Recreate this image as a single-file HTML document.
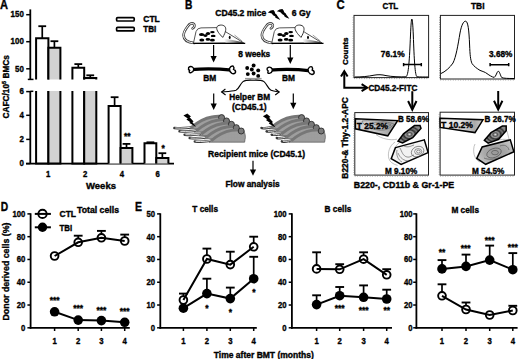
<!DOCTYPE html>
<html><head><meta charset="utf-8"><style>
html,body{margin:0;padding:0;background:#fff;width:520px;height:359px;overflow:hidden}
svg{display:block}
text{font-family:"Liberation Sans",sans-serif;fill:#000;stroke:#000;stroke-width:0.35px}
</style></head><body>
<svg width="520" height="359" viewBox="0 0 520 359">
<defs>
<linearGradient id="noseg" x1="0" y1="0" x2="1" y2="0"><stop offset="0" stop-color="#fff"/><stop offset="0.5" stop-color="#999"/><stop offset="1" stop-color="#111"/></linearGradient>
<pattern id="dots" width="1.5" height="1.5" patternUnits="userSpaceOnUse"><rect width="1.5" height="1.5" fill="#bdbdbd"/><circle cx="0.75" cy="0.75" r="0.5" fill="#666"/></pattern>
<linearGradient id="tgrad" x1="0" y1="0" x2="1" y2="0"><stop offset="0" stop-color="#d8d8d8"/><stop offset="0.5" stop-color="#c4c4c4"/><stop offset="0.85" stop-color="#a0a0a0"/><stop offset="1" stop-color="#c8c8c8"/></linearGradient>
<linearGradient id="tgrad2" x1="0" y1="0" x2="1" y2="0"><stop offset="0" stop-color="#f4f4f4"/><stop offset="0.5" stop-color="#ddd"/><stop offset="0.8" stop-color="#aaa"/><stop offset="1" stop-color="#ccc"/></linearGradient>
<radialGradient id="bgrad"><stop offset="0" stop-color="#eee"/><stop offset="0.2" stop-color="#555"/><stop offset="0.35" stop-color="#999"/><stop offset="0.5" stop-color="#333"/><stop offset="0.7" stop-color="#777"/><stop offset="0.85" stop-color="#333"/><stop offset="1" stop-color="#888"/></radialGradient>
<radialGradient id="mgrad"><stop offset="0" stop-color="#999"/><stop offset="0.6" stop-color="#a8a8a8"/><stop offset="1" stop-color="#c0c0c0"/></radialGradient>
</defs>
<text x="0" y="8.5" font-size="12" text-anchor="start" font-weight="bold" textLength="8" lengthAdjust="spacingAndGlyphs" >A</text>
<line x1="30.3" y1="9.4" x2="30.3" y2="79.4" stroke="#000" stroke-width="1.8" />
<line x1="26.2" y1="14.7" x2="30.3" y2="14.7" stroke="#000" stroke-width="1.5" />
<text x="23.8" y="17.4" font-size="8.9" text-anchor="end" font-weight="bold" textLength="13.2" lengthAdjust="spacingAndGlyphs" >150</text>
<line x1="26.2" y1="41.7" x2="30.3" y2="41.7" stroke="#000" stroke-width="1.5" />
<text x="23.8" y="44.400000000000006" font-size="8.9" text-anchor="end" font-weight="bold" textLength="13.2" lengthAdjust="spacingAndGlyphs" >100</text>
<line x1="26.2" y1="68.8" x2="30.3" y2="68.8" stroke="#000" stroke-width="1.5" />
<text x="23.8" y="71.5" font-size="8.9" text-anchor="end" font-weight="bold" textLength="8.8" lengthAdjust="spacingAndGlyphs" >50</text>
<line x1="27.8" y1="79.4" x2="33.5" y2="79.4" stroke="#000" stroke-width="1.5" />
<line x1="30.3" y1="91.3" x2="33.3" y2="91.3" stroke="#000" stroke-width="1.5" />
<line x1="30.3" y1="91" x2="30.3" y2="163.6" stroke="#000" stroke-width="1.8" />
<line x1="26.2" y1="91.6" x2="30.3" y2="91.6" stroke="#000" stroke-width="1.5" />
<text x="23.8" y="94.3" font-size="8.9" text-anchor="end" font-weight="bold" textLength="4.4" lengthAdjust="spacingAndGlyphs" >6</text>
<line x1="26.2" y1="115.3" x2="30.3" y2="115.3" stroke="#000" stroke-width="1.5" />
<text x="23.8" y="118.0" font-size="8.9" text-anchor="end" font-weight="bold" textLength="4.4" lengthAdjust="spacingAndGlyphs" >4</text>
<line x1="26.2" y1="139.4" x2="30.3" y2="139.4" stroke="#000" stroke-width="1.5" />
<text x="23.8" y="142.1" font-size="8.9" text-anchor="end" font-weight="bold" textLength="4.4" lengthAdjust="spacingAndGlyphs" >2</text>
<line x1="26.2" y1="163.6" x2="30.3" y2="163.6" stroke="#000" stroke-width="1.5" />
<text x="23.8" y="166.29999999999998" font-size="8.9" text-anchor="end" font-weight="bold" textLength="4.4" lengthAdjust="spacingAndGlyphs" >0</text>
<line x1="26" y1="163.6" x2="174" y2="163.6" stroke="#000" stroke-width="1.8" />
<text x="48.2" y="176.8" font-size="8.6" text-anchor="middle" font-weight="bold" textLength="4.3" lengthAdjust="spacingAndGlyphs" >1</text>
<text x="85.2" y="176.8" font-size="8.6" text-anchor="middle" font-weight="bold" textLength="4.3" lengthAdjust="spacingAndGlyphs" >2</text>
<text x="121.8" y="176.8" font-size="8.6" text-anchor="middle" font-weight="bold" textLength="4.3" lengthAdjust="spacingAndGlyphs" >4</text>
<text x="157.6" y="176.8" font-size="8.6" text-anchor="middle" font-weight="bold" textLength="4.3" lengthAdjust="spacingAndGlyphs" >6</text>
<text x="101" y="188.6" font-size="9.3" text-anchor="middle" font-weight="bold" textLength="30" lengthAdjust="spacingAndGlyphs" >Weeks</text>
<text transform="translate(8.6,86.8) rotate(-90)" font-size="8.3" font-weight="bold" text-anchor="middle">CAFC/10<tspan font-size="5.5" dy="-3">5</tspan><tspan dy="3"> BMCs</tspan></text>
<path d="M36.1,79.5 V38.3 H48.4 V79.5" fill="#fff" stroke="#000" stroke-width="2.0"/>
<path d="M36.1,91 V163.6 H48.4 V91" fill="#fff" stroke="#000" stroke-width="2.0"/>
<line x1="42.25" y1="38.3" x2="42.25" y2="26.2" stroke="#000" stroke-width="1.7" />
<line x1="38.35" y1="26.2" x2="46.15" y2="26.2" stroke="#000" stroke-width="1.8" />
<path d="M48.4,79.5 V47.8 H60.4 V79.5" fill="#d2d2d2" stroke="#000" stroke-width="2.0"/>
<path d="M48.4,91 V163.6 H60.4 V91" fill="#d2d2d2" stroke="#000" stroke-width="2.0"/>
<line x1="54.4" y1="47.8" x2="54.4" y2="41.2" stroke="#000" stroke-width="1.7" />
<line x1="50.5" y1="41.2" x2="58.3" y2="41.2" stroke="#000" stroke-width="1.8" />
<path d="M72.4,79.5 V67.8 H84.2 V79.5" fill="#fff" stroke="#000" stroke-width="2.0"/>
<path d="M72.4,91 V163.6 H84.2 V91" fill="#fff" stroke="#000" stroke-width="2.0"/>
<line x1="78.30000000000001" y1="67.8" x2="78.30000000000001" y2="64.1" stroke="#000" stroke-width="1.7" />
<line x1="74.4" y1="64.1" x2="82.20000000000002" y2="64.1" stroke="#000" stroke-width="1.8" />
<path d="M84.2,79.5 V77.9 H96.3 V79.5" fill="#d2d2d2" stroke="#000" stroke-width="2.0"/>
<path d="M84.2,91 V163.6 H96.3 V91" fill="#d2d2d2" stroke="#000" stroke-width="2.0"/>
<line x1="90.25" y1="77.9" x2="90.25" y2="75.3" stroke="#000" stroke-width="1.7" />
<line x1="86.35" y1="75.3" x2="94.15" y2="75.3" stroke="#000" stroke-width="1.8" />
<path d="M108.6,163.6 V105.9 H120.6 V163.6" fill="#fff" stroke="#000" stroke-width="2.0"/>
<line x1="114.6" y1="105.9" x2="114.6" y2="97.2" stroke="#000" stroke-width="1.7" />
<line x1="110.69999999999999" y1="97.2" x2="118.5" y2="97.2" stroke="#000" stroke-width="1.8" />
<path d="M120.6,163.6 V147.9 H132.4 V163.6" fill="#d2d2d2" stroke="#000" stroke-width="2.0"/>
<line x1="126.5" y1="147.9" x2="126.5" y2="143.9" stroke="#000" stroke-width="1.7" />
<line x1="122.6" y1="143.9" x2="130.4" y2="143.9" stroke="#000" stroke-width="1.8" />
<path d="M144.5,163.6 V143.3 H156.3 V163.6" fill="#fff" stroke="#000" stroke-width="2.0"/>
<line x1="150.4" y1="143.3" x2="150.4" y2="142.3" stroke="#000" stroke-width="1.7" />
<line x1="146.5" y1="142.3" x2="154.3" y2="142.3" stroke="#000" stroke-width="1.8" />
<path d="M156.3,163.6 V158.0 H168.4 V163.6" fill="#d2d2d2" stroke="#000" stroke-width="2.0"/>
<line x1="162.35000000000002" y1="158.0" x2="162.35000000000002" y2="153.2" stroke="#000" stroke-width="1.7" />
<line x1="158.45000000000002" y1="153.2" x2="166.25000000000003" y2="153.2" stroke="#000" stroke-width="1.8" />
<text x="127.2" y="139.2" font-size="8.5" text-anchor="middle" font-weight="bold" >**</text>
<text x="163.2" y="150.5" font-size="8.5" text-anchor="middle" font-weight="bold" >*</text>
<rect x="116.6" y="17.6" width="17.6" height="3.4" rx="1.0" fill="#fff" stroke="#000" stroke-width="1.7"/>
<rect x="116.6" y="27.3" width="17.6" height="3.6" rx="1.0" fill="#f4f4f4" stroke="#000" stroke-width="1.7"/>
<text x="143.3" y="22.2" font-size="8.3" text-anchor="start" font-weight="bold" textLength="16.5" lengthAdjust="spacingAndGlyphs" >CTL</text>
<text x="143.3" y="32.3" font-size="8.3" text-anchor="start" font-weight="bold" textLength="13" lengthAdjust="spacingAndGlyphs" >TBI</text>
<text x="185.0" y="8.7" font-size="12" text-anchor="start" font-weight="bold" textLength="7.4" lengthAdjust="spacingAndGlyphs" >B</text>
<text x="215.3" y="15.8" font-size="8.5" text-anchor="start" font-weight="bold" textLength="51" lengthAdjust="spacingAndGlyphs" >CD45.2 mice</text>
<text x="291.8" y="15.5" font-size="8.5" text-anchor="start" font-weight="bold" textLength="18.8" lengthAdjust="spacingAndGlyphs" >6 Gy</text>
<path d="M267.8,12.4 L270.6,10.6 L273.4,10.1 L274.6,11.6 L275.2,13.4 L276.8,14.8 L277.4,16.0 L278.6,17.4 L280.4,19.9 L277.0,18.6 L275.0,17.2 L275.4,16.6 L273.0,15.2 L271.8,13.6 L270.0,13.0 Z" fill="#000"/>
<path d="M267.8,12.4 L270.6,10.6 L273.4,10.1 L274.6,11.6 L275.2,13.4 L276.8,14.8 L277.4,16.0 L278.6,17.4 L280.4,19.9 L277.0,18.6 L275.0,17.2 L275.4,16.6 L273.0,15.2 L271.8,13.6 L270.0,13.0 Z" fill="#000" transform="translate(9.0,-1.2)"/>
<g transform="translate(0,0)"><path d="M194.5,43.0 C188,42.6 183.8,39.8 183.6,35.6 C183.4,32 186,28.6 188,26 C189.6,23.6 192.4,22.6 194.0,24.2 C195.2,25.6 194.2,27.6 192.6,28.4" fill="none" stroke="#444" stroke-width="2.6" stroke-linecap="round"/><path d="M194.5,43.0 C188,42.6 183.8,39.8 183.6,35.6 C183.4,32 186,28.6 188,26 C189.6,23.6 192.4,22.6 194.0,24.2 C195.2,25.6 194.2,27.6 192.6,28.4" fill="none" stroke="#fff" stroke-width="1.0" stroke-linecap="round"/><path d="M193.4,43.4 L196.0,31.6 Q197.2,28.0 201.0,27.9 L218.0,27.6 L226.0,32.0 L243.6,42.8 Z" fill="#fff" stroke="#555" stroke-width="1.0" stroke-linejoin="round"/><path d="M224,39.0 C232,39.6 238,41.0 243.8,42.8 L226,43.4 Z" fill="url(#noseg)"/><path d="M234.5,35.0 L242.0,41.0" stroke="#777" stroke-width="0.7"/><line x1="193.2" y1="43.4" x2="245.2" y2="43.4" stroke="#000" stroke-width="1.1"/><path d="M222.7,37.4 C219.4,34.0 216.2,30.4 216.8,27.4 C217.4,24.8 222.6,24.2 224.8,26.4 C226.6,28.4 225.8,32.2 222.7,37.4 Z" fill="#fff" stroke="#333" stroke-width="1.0"/><ellipse cx="229.7" cy="37.4" rx="0.95" ry="1.6" fill="#000"/><ellipse cx="201.6" cy="34.5" rx="2.6" ry="1.5" fill="#000"/><ellipse cx="205.4" cy="35.6" rx="2.2" ry="1.4" fill="#000"/><ellipse cx="208.0" cy="33.4" rx="2.2" ry="1.5" fill="#000"/><ellipse cx="212.4" cy="32.1" rx="2.3" ry="1.2" fill="#000"/><ellipse cx="213.2" cy="35.9" rx="2.4" ry="1.2" fill="#000"/><ellipse cx="201.8" cy="40.0" rx="2.5" ry="1.5" fill="#000"/><ellipse cx="207.9" cy="39.4" rx="2.3" ry="1.4" fill="#000"/><ellipse cx="212.4" cy="40.2" rx="2.5" ry="1.4" fill="#000"/></g>
<g transform="translate(78.3,0)"><path d="M194.5,43.0 C188,42.6 183.8,39.8 183.6,35.6 C183.4,32 186,28.6 188,26 C189.6,23.6 192.4,22.6 194.0,24.2 C195.2,25.6 194.2,27.6 192.6,28.4" fill="none" stroke="#444" stroke-width="2.6" stroke-linecap="round"/><path d="M194.5,43.0 C188,42.6 183.8,39.8 183.6,35.6 C183.4,32 186,28.6 188,26 C189.6,23.6 192.4,22.6 194.0,24.2 C195.2,25.6 194.2,27.6 192.6,28.4" fill="none" stroke="#fff" stroke-width="1.0" stroke-linecap="round"/><path d="M193.4,43.4 L196.0,31.6 Q197.2,28.0 201.0,27.9 L218.0,27.6 L226.0,32.0 L243.6,42.8 Z" fill="#fff" stroke="#555" stroke-width="1.0" stroke-linejoin="round"/><path d="M224,39.0 C232,39.6 238,41.0 243.8,42.8 L226,43.4 Z" fill="url(#noseg)"/><path d="M234.5,35.0 L242.0,41.0" stroke="#777" stroke-width="0.7"/><line x1="193.2" y1="43.4" x2="245.2" y2="43.4" stroke="#000" stroke-width="1.1"/><path d="M222.7,37.4 C219.4,34.0 216.2,30.4 216.8,27.4 C217.4,24.8 222.6,24.2 224.8,26.4 C226.6,28.4 225.8,32.2 222.7,37.4 Z" fill="#fff" stroke="#333" stroke-width="1.0"/><ellipse cx="229.7" cy="37.4" rx="0.95" ry="1.6" fill="#000"/><ellipse cx="201.6" cy="34.5" rx="2.6" ry="1.5" fill="#000"/><ellipse cx="205.4" cy="35.6" rx="2.2" ry="1.4" fill="#000"/><ellipse cx="208.0" cy="33.4" rx="2.2" ry="1.5" fill="#000"/><ellipse cx="212.4" cy="32.1" rx="2.3" ry="1.2" fill="#000"/><ellipse cx="213.2" cy="35.9" rx="2.4" ry="1.2" fill="#000"/><ellipse cx="201.8" cy="40.0" rx="2.5" ry="1.5" fill="#000"/><ellipse cx="207.9" cy="39.4" rx="2.3" ry="1.4" fill="#000"/><ellipse cx="212.4" cy="40.2" rx="2.5" ry="1.4" fill="#000"/></g>
<line x1="213.6" y1="45.0" x2="213.6" y2="56.6" stroke="#000" stroke-width="1.2" />
<path d="M210.5,56.1 L216.7,56.1 L213.6,62.5 Z" fill="#000"/>
<line x1="290.3" y1="45.0" x2="290.3" y2="58.1" stroke="#000" stroke-width="1.2" />
<path d="M287.2,57.6 L293.40000000000003,57.6 L290.3,64.0 Z" fill="#000"/>
<text x="238.2" y="57.4" font-size="8.4" text-anchor="start" font-weight="bold" textLength="32" lengthAdjust="spacingAndGlyphs" >8 weeks</text>
<g transform="translate(0,0)"><path d="M191,69.6 Q211,67.8 232,70.2" fill="none" stroke="#000" stroke-width="3.2"/><path d="M188.6,67.6 Q190.5,65.8 192.4,67.0 Q194.2,68.2 193.6,70.2 Q193.2,72.4 190.8,72.8 Q188.4,73.0 189.6,70.4 Q188.0,69.4 188.6,67.6 Z" fill="#fff" stroke="#000" stroke-width="1.4"/><path d="M229.4,68.6 Q231.0,65.4 233.2,66.2 Q234.6,67.6 233.6,69.4 Q236.2,70.6 235.4,72.8 Q233.6,74.6 231.6,73.2 Q229.4,71.8 229.4,68.6 Z" fill="#fff" stroke="#000" stroke-width="1.4"/></g>
<g transform="translate(78.6,0.6)"><path d="M191,69.6 Q211,67.8 232,70.2" fill="none" stroke="#000" stroke-width="3.2"/><path d="M188.6,67.6 Q190.5,65.8 192.4,67.0 Q194.2,68.2 193.6,70.2 Q193.2,72.4 190.8,72.8 Q188.4,73.0 189.6,70.4 Q188.0,69.4 188.6,67.6 Z" fill="#fff" stroke="#000" stroke-width="1.4"/><path d="M229.4,68.6 Q231.0,65.4 233.2,66.2 Q234.6,67.6 233.6,69.4 Q236.2,70.6 235.4,72.8 Q233.6,74.6 231.6,73.2 Q229.4,71.8 229.4,68.6 Z" fill="#fff" stroke="#000" stroke-width="1.4"/></g>
<text x="203.3" y="80.8" font-size="8.4" text-anchor="start" font-weight="bold" textLength="13" lengthAdjust="spacingAndGlyphs" >BM</text>
<text x="282.0" y="81.0" font-size="8.4" text-anchor="start" font-weight="bold" textLength="13" lengthAdjust="spacingAndGlyphs" >BM</text>
<circle cx="253.6" cy="65.5" r="1.95" fill="#000"/>
<circle cx="247.2" cy="68.0" r="1.95" fill="#000"/>
<circle cx="251.8" cy="69.5" r="1.95" fill="#000"/>
<circle cx="258.2" cy="70.4" r="1.95" fill="#000"/>
<circle cx="247.8" cy="74.1" r="1.95" fill="#000"/>
<circle cx="253.6" cy="73.5" r="1.95" fill="#000"/>
<circle cx="258.2" cy="75.9" r="1.95" fill="#000"/>
<rect x="245" y="77.9" width="16.6" height="1.6" fill="#999"/>
<path d="M221.6,92.0 C226,91.6 232,91.4 236,90.2 C239,89 240,84 243,81.6 C246,79.8 250,80.2 253,80.2 C257,80.2 261,79.8 264,81.6 C267,84 268,89 271,90.2 C274,91.4 277,91.6 279.2,92.0" fill="none" stroke="#000" stroke-width="1.1"/>
<path d="M225.4,89.0 L221.6,92.0 L225.6,95.0" fill="none" stroke="#000" stroke-width="1.1"/>
<path d="M275.4,89.0 L279.2,92.0 L275.2,95.0" fill="none" stroke="#000" stroke-width="1.1"/>
<text x="229.3" y="100.0" font-size="8.4" text-anchor="start" font-weight="bold" textLength="40.7" lengthAdjust="spacingAndGlyphs" >Helper BM</text>
<text x="232.0" y="109.6" font-size="8.4" text-anchor="start" font-weight="bold" textLength="34.5" lengthAdjust="spacingAndGlyphs" >(CD45.1)</text>
<line x1="213.7" y1="93.6" x2="213.7" y2="104.1" stroke="#000" stroke-width="1.2" />
<path d="M210.6,103.6 L216.79999999999998,103.6 L213.7,110.0 Z" fill="#000"/>
<line x1="293.3" y1="93.6" x2="293.3" y2="103.3" stroke="#000" stroke-width="1.2" />
<path d="M290.2,102.8 L296.40000000000003,102.8 L293.3,109.2 Z" fill="#000"/>
<g transform="translate(0,0)"><g transform="translate(0.00,0.00)"><path d="M174.4,128.0 C182,128.6 190,128.0 197,126.2" fill="none" stroke="#3a3a3a" stroke-width="2.5" stroke-linecap="round"/><path d="M175.6,128.0 C182,128.4 190,127.8 197,126.1" fill="none" stroke="#f4f4f4" stroke-width="0.9" stroke-linecap="round"/><path d="M189.5,128.8 C196,123 204,118.2 212,116.6 C217,115.6 221,115.4 224,117.0 C225.4,119.4 226.4,123.6 225.4,126.4 L225.0,128.8 Z" fill="url(#dots)" stroke="#444" stroke-width="0.6"/><path d="M191.5,127.4 C198,121.8 205,118.2 212,117.0 C216,116.3 219,116.1 221,116.5" fill="none" stroke="#777" stroke-width="2.9"/><circle cx="221.6" cy="117.6" r="3.0" fill="#7a7a7a" stroke="#2a2a2a" stroke-width="0.9"/></g><g transform="translate(4.90,3.35)"><path d="M174.6,128.0 C182,128.6 190,128.0 197,126.2" fill="none" stroke="#3a3a3a" stroke-width="2.5" stroke-linecap="round"/><path d="M175.79999999999998,128.0 C182,128.4 190,127.8 197,126.1" fill="none" stroke="#f4f4f4" stroke-width="0.9" stroke-linecap="round"/><path d="M189.5,128.8 C196,123 204,118.2 212,116.6 C217,115.6 221,115.4 224,117.0 C225.4,119.4 226.4,123.6 225.4,126.4 L225.0,128.8 Z" fill="url(#dots)" stroke="#444" stroke-width="0.6"/><path d="M191.5,127.4 C198,121.8 205,118.2 212,117.0 C216,116.3 219,116.1 221,116.5" fill="none" stroke="#777" stroke-width="2.9"/><circle cx="221.6" cy="117.6" r="3.0" fill="#7a7a7a" stroke="#2a2a2a" stroke-width="0.9"/></g><g transform="translate(9.80,6.70)"><path d="M174.8,128.0 C182,128.6 190,128.0 197,126.2" fill="none" stroke="#3a3a3a" stroke-width="2.5" stroke-linecap="round"/><path d="M176.0,128.0 C182,128.4 190,127.8 197,126.1" fill="none" stroke="#f4f4f4" stroke-width="0.9" stroke-linecap="round"/><path d="M189.5,128.8 C196,123 204,118.2 212,116.6 C217,115.6 221,115.4 224,117.0 C225.4,119.4 226.4,123.6 225.4,126.4 L225.0,128.8 Z" fill="url(#dots)" stroke="#444" stroke-width="0.6"/><path d="M191.5,127.4 C198,121.8 205,118.2 212,117.0 C216,116.3 219,116.1 221,116.5" fill="none" stroke="#777" stroke-width="2.9"/><circle cx="221.6" cy="117.6" r="3.0" fill="#7a7a7a" stroke="#2a2a2a" stroke-width="0.9"/></g><g transform="translate(14.70,10.05)"><path d="M175.0,128.0 C182,128.6 190,128.0 197,126.2" fill="none" stroke="#3a3a3a" stroke-width="2.5" stroke-linecap="round"/><path d="M176.2,128.0 C182,128.4 190,127.8 197,126.1" fill="none" stroke="#f4f4f4" stroke-width="0.9" stroke-linecap="round"/><path d="M189.5,128.8 C196,123 204,118.2 212,116.6 C217,115.6 221,115.4 224,117.0 C225.4,119.4 226.4,123.6 225.4,126.4 L225.0,128.8 Z" fill="url(#dots)" stroke="#444" stroke-width="0.6"/><path d="M191.5,127.4 C198,121.8 205,118.2 212,117.0 C216,116.3 219,116.1 221,116.5" fill="none" stroke="#777" stroke-width="2.9"/><circle cx="221.6" cy="117.6" r="3.0" fill="#7a7a7a" stroke="#2a2a2a" stroke-width="0.9"/></g><g transform="translate(19.60,13.40)"><path d="M175.20000000000002,128.0 C182,128.6 190,128.0 197,126.2" fill="none" stroke="#3a3a3a" stroke-width="2.5" stroke-linecap="round"/><path d="M176.4,128.0 C182,128.4 190,127.8 197,126.1" fill="none" stroke="#f4f4f4" stroke-width="0.9" stroke-linecap="round"/><path d="M189.5,128.8 C196,123 204,118.2 212,116.6 C217,115.6 221,115.4 224,117.0 C225.4,119.4 226.4,123.6 225.4,126.4 L225.0,128.8 Z" fill="url(#dots)" stroke="#444" stroke-width="0.6"/><path d="M191.5,127.4 C198,121.8 205,118.2 212,117.0 C216,116.3 219,116.1 221,116.5" fill="none" stroke="#777" stroke-width="2.9"/><circle cx="221.6" cy="117.6" r="3.0" fill="#7a7a7a" stroke="#2a2a2a" stroke-width="0.9"/></g></g>
<g transform="translate(80.0,0)"><g transform="translate(0.00,0.00)"><path d="M181.5,128.0 C182,128.6 190,128.0 197,126.2" fill="none" stroke="#3a3a3a" stroke-width="2.5" stroke-linecap="round"/><path d="M182.7,128.0 C182,128.4 190,127.8 197,126.1" fill="none" stroke="#f4f4f4" stroke-width="0.9" stroke-linecap="round"/><path d="M189.5,128.8 C196,123 204,118.2 212,116.6 C217,115.6 221,115.4 224,117.0 C225.4,119.4 226.4,123.6 225.4,126.4 L225.0,128.8 Z" fill="url(#dots)" stroke="#444" stroke-width="0.6"/><path d="M191.5,127.4 C198,121.8 205,118.2 212,117.0 C216,116.3 219,116.1 221,116.5" fill="none" stroke="#777" stroke-width="2.9"/><circle cx="221.6" cy="117.6" r="3.0" fill="#7a7a7a" stroke="#2a2a2a" stroke-width="0.9"/></g><g transform="translate(4.90,3.35)"><path d="M181.7,128.0 C182,128.6 190,128.0 197,126.2" fill="none" stroke="#3a3a3a" stroke-width="2.5" stroke-linecap="round"/><path d="M182.89999999999998,128.0 C182,128.4 190,127.8 197,126.1" fill="none" stroke="#f4f4f4" stroke-width="0.9" stroke-linecap="round"/><path d="M189.5,128.8 C196,123 204,118.2 212,116.6 C217,115.6 221,115.4 224,117.0 C225.4,119.4 226.4,123.6 225.4,126.4 L225.0,128.8 Z" fill="url(#dots)" stroke="#444" stroke-width="0.6"/><path d="M191.5,127.4 C198,121.8 205,118.2 212,117.0 C216,116.3 219,116.1 221,116.5" fill="none" stroke="#777" stroke-width="2.9"/><circle cx="221.6" cy="117.6" r="3.0" fill="#7a7a7a" stroke="#2a2a2a" stroke-width="0.9"/></g><g transform="translate(9.80,6.70)"><path d="M181.9,128.0 C182,128.6 190,128.0 197,126.2" fill="none" stroke="#3a3a3a" stroke-width="2.5" stroke-linecap="round"/><path d="M183.1,128.0 C182,128.4 190,127.8 197,126.1" fill="none" stroke="#f4f4f4" stroke-width="0.9" stroke-linecap="round"/><path d="M189.5,128.8 C196,123 204,118.2 212,116.6 C217,115.6 221,115.4 224,117.0 C225.4,119.4 226.4,123.6 225.4,126.4 L225.0,128.8 Z" fill="url(#dots)" stroke="#444" stroke-width="0.6"/><path d="M191.5,127.4 C198,121.8 205,118.2 212,117.0 C216,116.3 219,116.1 221,116.5" fill="none" stroke="#777" stroke-width="2.9"/><circle cx="221.6" cy="117.6" r="3.0" fill="#7a7a7a" stroke="#2a2a2a" stroke-width="0.9"/></g><g transform="translate(14.70,10.05)"><path d="M182.1,128.0 C182,128.6 190,128.0 197,126.2" fill="none" stroke="#3a3a3a" stroke-width="2.5" stroke-linecap="round"/><path d="M183.29999999999998,128.0 C182,128.4 190,127.8 197,126.1" fill="none" stroke="#f4f4f4" stroke-width="0.9" stroke-linecap="round"/><path d="M189.5,128.8 C196,123 204,118.2 212,116.6 C217,115.6 221,115.4 224,117.0 C225.4,119.4 226.4,123.6 225.4,126.4 L225.0,128.8 Z" fill="url(#dots)" stroke="#444" stroke-width="0.6"/><path d="M191.5,127.4 C198,121.8 205,118.2 212,117.0 C216,116.3 219,116.1 221,116.5" fill="none" stroke="#777" stroke-width="2.9"/><circle cx="221.6" cy="117.6" r="3.0" fill="#7a7a7a" stroke="#2a2a2a" stroke-width="0.9"/></g><g transform="translate(19.60,13.40)"><path d="M182.3,128.0 C182,128.6 190,128.0 197,126.2" fill="none" stroke="#3a3a3a" stroke-width="2.5" stroke-linecap="round"/><path d="M183.5,128.0 C182,128.4 190,127.8 197,126.1" fill="none" stroke="#f4f4f4" stroke-width="0.9" stroke-linecap="round"/><path d="M189.5,128.8 C196,123 204,118.2 212,116.6 C217,115.6 221,115.4 224,117.0 C225.4,119.4 226.4,123.6 225.4,126.4 L225.0,128.8 Z" fill="url(#dots)" stroke="#444" stroke-width="0.6"/><path d="M191.5,127.4 C198,121.8 205,118.2 212,117.0 C216,116.3 219,116.1 221,116.5" fill="none" stroke="#777" stroke-width="2.9"/><circle cx="221.6" cy="117.6" r="3.0" fill="#7a7a7a" stroke="#2a2a2a" stroke-width="0.9"/></g></g>
<path d="M183.4,115.6 L187.4,113.4 L191.0,116.4 L189.6,117.2 L193.6,121.6 L192.4,122.0 L196.0,127.0 L189.2,122.8 L190.4,122.2 L186.4,119.4 L187.8,118.6 Z" fill="#000"/>
<path d="M183.4,115.6 L187.4,113.4 L191.0,116.4 L189.6,117.2 L193.6,121.6 L192.4,122.0 L196.0,127.0 L189.2,122.8 L190.4,122.2 L186.4,119.4 L187.8,118.6 Z" fill="#000" transform="translate(79.5,0.6)"/>
<text x="208.0" y="157.3" font-size="8.5" text-anchor="start" font-weight="bold" textLength="97" lengthAdjust="spacingAndGlyphs" >Recipient mice (CD45.1)</text>
<line x1="253.0" y1="160.8" x2="253.0" y2="169.9" stroke="#000" stroke-width="1.2" />
<path d="M249.9,169.4 L256.1,169.4 L253.0,175.8 Z" fill="#000"/>
<text x="225.4" y="186.5" font-size="8.4" text-anchor="start" font-weight="bold" textLength="54.2" lengthAdjust="spacingAndGlyphs" >Flow analysis</text>
<text x="336.4" y="8.7" font-size="12" text-anchor="start" font-weight="bold" textLength="8.2" lengthAdjust="spacingAndGlyphs" >C</text>
<text x="390.4" y="9.4" font-size="8.8" text-anchor="middle" font-weight="bold" textLength="15.6" lengthAdjust="spacingAndGlyphs" >CTL</text>
<text x="477.7" y="9.4" font-size="8.8" text-anchor="middle" font-weight="bold" textLength="13.6" lengthAdjust="spacingAndGlyphs" >TBI</text>
<rect x="354.0" y="15.4" width="74.60000000000002" height="62.199999999999996" fill="none" stroke="#222" stroke-width="1.0"/>
<line x1="353.1" y1="17.4" x2="353.1" y2="77.6" stroke="#777" stroke-width="0.9" stroke-dasharray="0.7 1.6"/>
<line x1="354.0" y1="78.6" x2="428.6" y2="78.6" stroke="#777" stroke-width="0.9" stroke-dasharray="0.7 1.8"/>
<rect x="440.4" y="15.4" width="74.10000000000002" height="63.6" fill="none" stroke="#222" stroke-width="1.0"/>
<line x1="439.5" y1="17.4" x2="439.5" y2="79.0" stroke="#777" stroke-width="0.9" stroke-dasharray="0.7 1.6"/>
<line x1="440.4" y1="80.0" x2="514.5" y2="80.0" stroke="#777" stroke-width="0.9" stroke-dasharray="0.7 1.8"/>
<path d="M354.6,77.0 C362,77.0 368,76.4 374,75.2 C378,74.4 382,74.6 386,75.6 C392,76.8 400,77.0 406,76.8 C408.5,75.6 409.5,60 410.5,35 C411,24 411.4,19.0 411.8,19.0 C412.4,19.0 412.8,24 413.3,35 C414.2,60 415,75.6 417,76.8 C420,77.0 424,77.0 428.4,77.0" fill="none" stroke="#000" stroke-width="1.0"/>
<path d="M403.6,64.6 H421.3 M403.6,63.0 V66.2 M421.3,63.0 V66.2" stroke="#000" stroke-width="1.5" fill="none"/>
<text x="380.8" y="56.9" font-size="8.4" text-anchor="start" font-weight="bold" textLength="23.8" lengthAdjust="spacingAndGlyphs" >76.1%</text>
<path d="M440.8,73.6 C445,72 450,67.5 453,63 C456,57 458,45 460,33 C461.5,25 463.5,21 465.7,21.2 C468,21.5 469,30 469.6,45 C470,55 470.5,60 472,63.5 C474,66.5 477,68.5 480,70.4 C483,71.6 485,72 487,73.6 C489.5,75.4 492,77 494.2,77.4 C496,76.5 497,71.5 498.2,71.2 C499.6,71 500.4,76 501.8,77.6 C504,78.4 508,78.5 514,78.5" fill="none" stroke="#000" stroke-width="1.0"/>
<path d="M490.1,64.7 H508.7 M490.1,63.1 V66.3 M508.7,63.1 V66.3" stroke="#000" stroke-width="1.5" fill="none"/>
<text x="489.0" y="56.9" font-size="8.4" text-anchor="start" font-weight="bold" textLength="23.4" lengthAdjust="spacingAndGlyphs" >3.68%</text>
<text transform="translate(347.6,51.3) rotate(-90)" font-size="8" font-weight="bold" text-anchor="middle" textLength="27.6" lengthAdjust="spacingAndGlyphs">Counts</text>
<path d="M344.3,72 V87.7 H367" fill="none" stroke="#000" stroke-width="2.0"/>
<path d="M341.0,76.6 L344.3,71.2 L347.6,76.6" fill="none" stroke="#000" stroke-width="2.0"/>
<path d="M361.6,84.2 L367.2,87.7 L361.6,91.2" fill="none" stroke="#000" stroke-width="2.0"/>
<text x="368.4" y="91.2" font-size="8.3" text-anchor="start" font-weight="bold" textLength="49" lengthAdjust="spacingAndGlyphs" >CD45.2-FITC</text>
<path d="M412.3,91.2 V108.8" stroke="#000" stroke-width="2.0" fill="none"/>
<path d="M408.1,101.0 L412.3,109.6 L416.5,101.0" stroke="#000" stroke-width="2.0" fill="none"/>
<path d="M498.2,91.0 V108.60000000000001" stroke="#000" stroke-width="2.0" fill="none"/>
<path d="M494.0,100.80000000000001 L498.2,109.4 L502.4,100.80000000000001" stroke="#000" stroke-width="2.0" fill="none"/>
<rect x="354.8" y="112.6" width="73.69999999999999" height="62.5" fill="none" stroke="#222" stroke-width="1.0"/>
<line x1="353.90000000000003" y1="114.6" x2="353.90000000000003" y2="175.1" stroke="#777" stroke-width="0.9" stroke-dasharray="0.7 1.6"/>
<line x1="354.8" y1="176.1" x2="428.5" y2="176.1" stroke="#777" stroke-width="0.9" stroke-dasharray="0.7 1.8"/>
<rect x="440.1" y="112.2" width="74.39999999999998" height="62.89999999999999" fill="none" stroke="#222" stroke-width="1.0"/>
<line x1="439.20000000000005" y1="114.2" x2="439.20000000000005" y2="175.1" stroke="#777" stroke-width="0.9" stroke-dasharray="0.7 1.6"/>
<line x1="440.1" y1="176.1" x2="514.5" y2="176.1" stroke="#777" stroke-width="0.9" stroke-dasharray="0.7 1.8"/>
<path d="M376,134.6 C382,139 390,140.6 397,139.2 M395,142 C389.6,145.6 387.4,152.6 388.8,158.4 C389.8,162 393,164.2 397.6,165.4 M399.6,142.6 C396,145 393.4,149 393,154" fill="none" stroke="#999" stroke-width="0.6"/>
<path d="M355.4,118.8 L397.6,120.6 L387.8,135.8 L355.4,128.8 Z" fill="url(#tgrad)" stroke="#000" stroke-width="1.5"/>
<g fill="none" stroke="#555" stroke-width="0.5"><path d="M362,121 C372,120 386,121 394,124 C390,129 384,131 378,130 C370,129 364,126 362,121 Z"/><path d="M372,123 C380,122 388,123 391,125 C386,128 380,128 372,123 Z"/></g>
<path d="M398,141.2 L403.5,133.9 L414.5,125.6 L420,125.6 L421,128.4 L412.7,137.6 L402.5,143 Z" fill="url(#bgrad)" stroke="#000" stroke-width="1.5"/>
<path d="M395.5,147.6 L424.3,139.8 L428.1,152.6 L401.1,164.4 L391.2,158.7 Z" fill="#f2f2f2" stroke="#000" stroke-width="1.5"/>
<g fill="none" stroke="#444" stroke-width="0.55"><ellipse cx="417.6" cy="151.6" rx="6.5" ry="5" transform="rotate(-25 417.6 151.6)"/><ellipse cx="418.2" cy="151.6" rx="3.6" ry="3.0"/><ellipse cx="418.4" cy="151.6" rx="1.8" ry="1.5"/><path d="M400,148 C402,152 403,156 407,157 C410,158 412,155 414,155 M398,153 C400,158 404,161 409,161 M397,150 C396,155 398,160 402,162 M404,146 C408,148 411,146 414,145"/></g>
<text x="398.0" y="122.4" font-size="8.3" text-anchor="start" font-weight="bold" textLength="31" lengthAdjust="spacingAndGlyphs" >B 58.6%</text>
<text x="356.8" y="128.9" font-size="8.3" text-anchor="start" font-weight="bold" textLength="31.3" lengthAdjust="spacingAndGlyphs" >T 25.2%</text>
<text x="385.0" y="173.6" font-size="8.3" text-anchor="start" font-weight="bold" textLength="32.2" lengthAdjust="spacingAndGlyphs" >M 9.10%</text>
<path d="M475,144 C472,150 474,160 480,162 M488,143 C494,141 506,137 509,141 M507,131 L509,139" fill="none" stroke="#999" stroke-width="0.6"/>
<path d="M440.0,118.2 L483.0,119.8 L475.0,132.6 L440.2,127.4 Z" fill="url(#tgrad2)" stroke="#000" stroke-width="1.5"/>
<path d="M484.4,140.3 L491,132.7 L502.4,126 L506.2,126 L506.2,130.8 L498.6,139.3 L488.2,143.1 Z" fill="url(#bgrad)" stroke="#000" stroke-width="1.5"/>
<path d="M476.8,158.4 L482.2,147.0 L510.3,139.8 L513.9,151.8 L485.7,164.3 Z" fill="url(#mgrad)" stroke="#000" stroke-width="1.5"/>
<g fill="none" stroke="#444" stroke-width="0.55"><ellipse cx="494" cy="153" rx="7.5" ry="4.5" transform="rotate(-20 494 153)"/><ellipse cx="495" cy="152.6" rx="3.4" ry="2.2"/><path d="M484,158 C488,160 496,160 502,156 M500,146 C504,144 508,146 509,150"/></g>
<text x="484.6" y="121.7" font-size="8.3" text-anchor="start" font-weight="bold" textLength="31.2" lengthAdjust="spacingAndGlyphs" >B 26.7%</text>
<text x="441.0" y="128.2" font-size="8.3" text-anchor="start" font-weight="bold" textLength="32" lengthAdjust="spacingAndGlyphs" >T 10.2%</text>
<text x="472.0" y="173.5" font-size="8.3" text-anchor="start" font-weight="bold" textLength="32.4" lengthAdjust="spacingAndGlyphs" >M 54.5%</text>
<text transform="translate(348.2,137.9) rotate(-90)" font-size="8.6" font-weight="bold" text-anchor="middle" textLength="81.5" lengthAdjust="spacingAndGlyphs">B220-&amp; Thy-1.2-APC</text>
<text x="353.8" y="188.4" font-size="8.4" text-anchor="start" font-weight="bold" textLength="100.4" lengthAdjust="spacingAndGlyphs" >B220-, CD11b &amp; Gr-1-PE</text>
<text x="0.8" y="210.8" font-size="12" text-anchor="start" font-weight="bold" textLength="7.4" lengthAdjust="spacingAndGlyphs" >D</text>
<line x1="30.6" y1="213.3" x2="30.6" y2="328.7" stroke="#000" stroke-width="1.8" />
<line x1="27.400000000000002" y1="327.8" x2="30.6" y2="327.8" stroke="#000" stroke-width="1.5" />
<text x="25.4" y="330.7" font-size="9.0" text-anchor="end" font-weight="bold" textLength="4.3" lengthAdjust="spacingAndGlyphs" >0</text>
<line x1="27.400000000000002" y1="305.02" x2="30.6" y2="305.02" stroke="#000" stroke-width="1.5" />
<text x="25.4" y="307.91999999999996" font-size="9.0" text-anchor="end" font-weight="bold" textLength="8.6" lengthAdjust="spacingAndGlyphs" >20</text>
<line x1="27.400000000000002" y1="282.24" x2="30.6" y2="282.24" stroke="#000" stroke-width="1.5" />
<text x="25.4" y="285.14" font-size="9.0" text-anchor="end" font-weight="bold" textLength="8.6" lengthAdjust="spacingAndGlyphs" >40</text>
<line x1="27.400000000000002" y1="259.46000000000004" x2="30.6" y2="259.46000000000004" stroke="#000" stroke-width="1.5" />
<text x="25.4" y="262.36" font-size="9.0" text-anchor="end" font-weight="bold" textLength="8.6" lengthAdjust="spacingAndGlyphs" >60</text>
<line x1="27.400000000000002" y1="236.68" x2="30.6" y2="236.68" stroke="#000" stroke-width="1.5" />
<text x="25.4" y="239.58" font-size="9.0" text-anchor="end" font-weight="bold" textLength="8.6" lengthAdjust="spacingAndGlyphs" >80</text>
<line x1="27.400000000000002" y1="213.9" x2="30.6" y2="213.9" stroke="#000" stroke-width="1.5" />
<text x="25.4" y="216.8" font-size="9.0" text-anchor="end" font-weight="bold" textLength="12.9" lengthAdjust="spacingAndGlyphs" >100</text>
<line x1="29.700000000000003" y1="327.8" x2="129.8" y2="327.8" stroke="#000" stroke-width="1.8" />
<line x1="54.6" y1="327.8" x2="54.6" y2="331.0" stroke="#000" stroke-width="1.5" />
<text x="54.6" y="343.8" font-size="8.8" text-anchor="middle" font-weight="bold" textLength="4.3" lengthAdjust="spacingAndGlyphs" >1</text>
<line x1="78.2" y1="327.8" x2="78.2" y2="331.0" stroke="#000" stroke-width="1.5" />
<text x="78.2" y="343.8" font-size="8.8" text-anchor="middle" font-weight="bold" textLength="4.3" lengthAdjust="spacingAndGlyphs" >2</text>
<line x1="101.4" y1="327.8" x2="101.4" y2="331.0" stroke="#000" stroke-width="1.5" />
<text x="101.4" y="343.8" font-size="8.8" text-anchor="middle" font-weight="bold" textLength="4.3" lengthAdjust="spacingAndGlyphs" >3</text>
<line x1="124.7" y1="327.8" x2="124.7" y2="331.0" stroke="#000" stroke-width="1.5" />
<text x="124.7" y="343.8" font-size="8.8" text-anchor="middle" font-weight="bold" textLength="4.3" lengthAdjust="spacingAndGlyphs" >4</text>
<line x1="78.2" y1="242.3" x2="78.2" y2="235.7" stroke="#000" stroke-width="1.7" />
<line x1="73.8" y1="235.7" x2="82.60000000000001" y2="235.7" stroke="#000" stroke-width="1.9" />
<line x1="101.4" y1="237.8" x2="101.4" y2="230.9" stroke="#000" stroke-width="1.7" />
<line x1="97.0" y1="230.9" x2="105.80000000000001" y2="230.9" stroke="#000" stroke-width="1.9" />
<line x1="124.7" y1="241.0" x2="124.7" y2="234.6" stroke="#000" stroke-width="1.7" />
<line x1="120.3" y1="234.6" x2="129.1" y2="234.6" stroke="#000" stroke-width="1.9" />
<circle cx="54.6" cy="311.8" r="4.8" fill="#000"/>
<circle cx="78.2" cy="320.1" r="4.8" fill="#000"/>
<circle cx="101.4" cy="320.6" r="4.8" fill="#000"/>
<circle cx="124.7" cy="322.3" r="4.8" fill="#000"/>
<circle cx="54.6" cy="256.0" r="3.8499999999999996" fill="#fff" stroke="#000" stroke-width="1.9"/>
<circle cx="78.2" cy="242.3" r="3.8499999999999996" fill="#fff" stroke="#000" stroke-width="1.9"/>
<circle cx="101.4" cy="237.8" r="3.8499999999999996" fill="#fff" stroke="#000" stroke-width="1.9"/>
<circle cx="124.7" cy="241.0" r="3.8499999999999996" fill="#fff" stroke="#000" stroke-width="1.9"/>
<polyline points="54.6,256.0 78.2,242.3 101.4,237.8 124.7,241.0" fill="none" stroke="#000" stroke-width="2.0"/>
<polyline points="54.6,311.8 78.2,320.1 101.4,320.6 124.7,322.3" fill="none" stroke="#000" stroke-width="2.0"/>
<text x="54.6" y="303.3" font-size="8.5" text-anchor="middle" font-weight="bold" >***</text>
<text x="78.2" y="311.3" font-size="8.5" text-anchor="middle" font-weight="bold" >***</text>
<text x="101.4" y="312.9" font-size="8.5" text-anchor="middle" font-weight="bold" >***</text>
<text x="124.7" y="314.3" font-size="8.5" text-anchor="middle" font-weight="bold" >***</text>
<circle cx="42.5" cy="213.9" r="4.1499999999999995" fill="#fff" stroke="#000" stroke-width="1.9"/>
<line x1="34.8" y1="213.9" x2="50.9" y2="213.9" stroke="#000" stroke-width="2.0" />
<circle cx="42.5" cy="227.3" r="4.7" fill="#000"/>
<line x1="34.8" y1="227.3" x2="50.9" y2="227.3" stroke="#000" stroke-width="2.0" />
<text x="59.5" y="217.0" font-size="8.3" text-anchor="start" font-weight="bold" textLength="16.5" lengthAdjust="spacingAndGlyphs" >CTL</text>
<text x="59.5" y="231.2" font-size="8.3" text-anchor="start" font-weight="bold" textLength="12.7" lengthAdjust="spacingAndGlyphs" >TBI</text>
<text x="77.0" y="212.6" font-size="8.4" text-anchor="start" font-weight="bold" textLength="42" lengthAdjust="spacingAndGlyphs" >Total cells</text>
<text transform="translate(8.6,271.5) rotate(-90)" font-size="8.6" font-weight="bold" text-anchor="middle" textLength="98" lengthAdjust="spacingAndGlyphs">Donor derived cells (%)</text>
<text x="134.9" y="210.8" font-size="12" text-anchor="start" font-weight="bold" textLength="7.0" lengthAdjust="spacingAndGlyphs" >E</text>
<line x1="160.3" y1="213.3" x2="160.3" y2="328.7" stroke="#000" stroke-width="1.8" />
<line x1="157.10000000000002" y1="327.8" x2="160.3" y2="327.8" stroke="#000" stroke-width="1.5" />
<text x="155.0" y="330.7" font-size="9.0" text-anchor="end" font-weight="bold" textLength="4.3" lengthAdjust="spacingAndGlyphs" >0</text>
<line x1="157.10000000000002" y1="305.02" x2="160.3" y2="305.02" stroke="#000" stroke-width="1.5" />
<text x="155.0" y="307.91999999999996" font-size="9.0" text-anchor="end" font-weight="bold" textLength="8.6" lengthAdjust="spacingAndGlyphs" >10</text>
<line x1="157.10000000000002" y1="282.24" x2="160.3" y2="282.24" stroke="#000" stroke-width="1.5" />
<text x="155.0" y="285.14" font-size="9.0" text-anchor="end" font-weight="bold" textLength="8.6" lengthAdjust="spacingAndGlyphs" >20</text>
<line x1="157.10000000000002" y1="259.46000000000004" x2="160.3" y2="259.46000000000004" stroke="#000" stroke-width="1.5" />
<text x="155.0" y="262.36" font-size="9.0" text-anchor="end" font-weight="bold" textLength="8.6" lengthAdjust="spacingAndGlyphs" >30</text>
<line x1="157.10000000000002" y1="236.68" x2="160.3" y2="236.68" stroke="#000" stroke-width="1.5" />
<text x="155.0" y="239.58" font-size="9.0" text-anchor="end" font-weight="bold" textLength="8.6" lengthAdjust="spacingAndGlyphs" >40</text>
<line x1="157.10000000000002" y1="213.9" x2="160.3" y2="213.9" stroke="#000" stroke-width="1.5" />
<text x="155.0" y="216.8" font-size="9.0" text-anchor="end" font-weight="bold" textLength="8.6" lengthAdjust="spacingAndGlyphs" >50</text>
<line x1="159.4" y1="327.8" x2="256.8" y2="327.8" stroke="#000" stroke-width="1.8" />
<line x1="183.4" y1="327.8" x2="183.4" y2="331.0" stroke="#000" stroke-width="1.5" />
<text x="183.4" y="343.8" font-size="8.8" text-anchor="middle" font-weight="bold" textLength="4.3" lengthAdjust="spacingAndGlyphs" >1</text>
<line x1="206.9" y1="327.8" x2="206.9" y2="331.0" stroke="#000" stroke-width="1.5" />
<text x="206.9" y="343.8" font-size="8.8" text-anchor="middle" font-weight="bold" textLength="4.3" lengthAdjust="spacingAndGlyphs" >2</text>
<line x1="230.3" y1="327.8" x2="230.3" y2="331.0" stroke="#000" stroke-width="1.5" />
<text x="230.3" y="343.8" font-size="8.8" text-anchor="middle" font-weight="bold" textLength="4.3" lengthAdjust="spacingAndGlyphs" >3</text>
<line x1="253.7" y1="327.8" x2="253.7" y2="331.0" stroke="#000" stroke-width="1.5" />
<text x="253.7" y="343.8" font-size="8.8" text-anchor="middle" font-weight="bold" textLength="4.3" lengthAdjust="spacingAndGlyphs" >4</text>
<line x1="183.4" y1="300.0" x2="183.4" y2="293.6" stroke="#000" stroke-width="1.7" />
<line x1="179.0" y1="293.6" x2="187.8" y2="293.6" stroke="#000" stroke-width="1.9" />
<line x1="206.9" y1="259.0" x2="206.9" y2="248.6" stroke="#000" stroke-width="1.7" />
<line x1="202.5" y1="248.6" x2="211.3" y2="248.6" stroke="#000" stroke-width="1.9" />
<line x1="230.3" y1="264.6" x2="230.3" y2="251.7" stroke="#000" stroke-width="1.7" />
<line x1="225.9" y1="251.7" x2="234.70000000000002" y2="251.7" stroke="#000" stroke-width="1.9" />
<line x1="253.7" y1="246.8" x2="253.7" y2="236.7" stroke="#000" stroke-width="1.7" />
<line x1="249.29999999999998" y1="236.7" x2="258.09999999999997" y2="236.7" stroke="#000" stroke-width="1.9" />
<line x1="206.9" y1="293.6" x2="206.9" y2="278.7" stroke="#000" stroke-width="1.7" />
<line x1="202.5" y1="278.7" x2="211.3" y2="278.7" stroke="#000" stroke-width="1.9" />
<line x1="230.3" y1="298.6" x2="230.3" y2="287.6" stroke="#000" stroke-width="1.7" />
<line x1="225.9" y1="287.6" x2="234.70000000000002" y2="287.6" stroke="#000" stroke-width="1.9" />
<line x1="253.7" y1="278.7" x2="253.7" y2="256.8" stroke="#000" stroke-width="1.7" />
<line x1="249.29999999999998" y1="256.8" x2="258.09999999999997" y2="256.8" stroke="#000" stroke-width="1.9" />
<circle cx="183.4" cy="308.2" r="4.8" fill="#000"/>
<circle cx="206.9" cy="293.6" r="4.8" fill="#000"/>
<circle cx="230.3" cy="298.6" r="4.8" fill="#000"/>
<circle cx="253.7" cy="278.7" r="4.8" fill="#000"/>
<circle cx="183.4" cy="300.0" r="3.8499999999999996" fill="#fff" stroke="#000" stroke-width="1.9"/>
<circle cx="206.9" cy="259.0" r="3.8499999999999996" fill="#fff" stroke="#000" stroke-width="1.9"/>
<circle cx="230.3" cy="264.6" r="3.8499999999999996" fill="#fff" stroke="#000" stroke-width="1.9"/>
<circle cx="253.7" cy="246.8" r="3.8499999999999996" fill="#fff" stroke="#000" stroke-width="1.9"/>
<polyline points="183.4,300.0 206.9,259.0 230.3,264.6 253.7,246.8" fill="none" stroke="#000" stroke-width="2.0"/>
<polyline points="183.4,308.2 206.9,293.6 230.3,298.6 253.7,278.7" fill="none" stroke="#000" stroke-width="2.0"/>
<text x="206.9" y="310.9" font-size="8.5" text-anchor="middle" font-weight="bold" >*</text>
<text x="230.3" y="314.8" font-size="8.5" text-anchor="middle" font-weight="bold" >*</text>
<text x="253.9" y="295.0" font-size="8.5" text-anchor="middle" font-weight="bold" >*</text>
<text x="192.3" y="212.4" font-size="8.3" text-anchor="start" font-weight="bold" textLength="25.7" lengthAdjust="spacingAndGlyphs" >T cells</text>
<line x1="291.9" y1="213.3" x2="291.9" y2="328.7" stroke="#000" stroke-width="1.8" />
<line x1="288.7" y1="327.8" x2="291.9" y2="327.8" stroke="#000" stroke-width="1.5" />
<text x="286.6" y="330.7" font-size="9.0" text-anchor="end" font-weight="bold" textLength="4.3" lengthAdjust="spacingAndGlyphs" >0</text>
<line x1="288.7" y1="305.02" x2="291.9" y2="305.02" stroke="#000" stroke-width="1.5" />
<text x="286.6" y="307.91999999999996" font-size="9.0" text-anchor="end" font-weight="bold" textLength="8.6" lengthAdjust="spacingAndGlyphs" >20</text>
<line x1="288.7" y1="282.24" x2="291.9" y2="282.24" stroke="#000" stroke-width="1.5" />
<text x="286.6" y="285.14" font-size="9.0" text-anchor="end" font-weight="bold" textLength="8.6" lengthAdjust="spacingAndGlyphs" >40</text>
<line x1="288.7" y1="259.46000000000004" x2="291.9" y2="259.46000000000004" stroke="#000" stroke-width="1.5" />
<text x="286.6" y="262.36" font-size="9.0" text-anchor="end" font-weight="bold" textLength="8.6" lengthAdjust="spacingAndGlyphs" >60</text>
<line x1="288.7" y1="236.68" x2="291.9" y2="236.68" stroke="#000" stroke-width="1.5" />
<text x="286.6" y="239.58" font-size="9.0" text-anchor="end" font-weight="bold" textLength="8.6" lengthAdjust="spacingAndGlyphs" >80</text>
<line x1="288.7" y1="213.9" x2="291.9" y2="213.9" stroke="#000" stroke-width="1.5" />
<text x="286.6" y="216.8" font-size="9.0" text-anchor="end" font-weight="bold" textLength="12.9" lengthAdjust="spacingAndGlyphs" >100</text>
<line x1="291.0" y1="327.8" x2="392.0" y2="327.8" stroke="#000" stroke-width="1.8" />
<line x1="316.6" y1="327.8" x2="316.6" y2="331.0" stroke="#000" stroke-width="1.5" />
<text x="316.6" y="343.8" font-size="8.8" text-anchor="middle" font-weight="bold" textLength="4.3" lengthAdjust="spacingAndGlyphs" >1</text>
<line x1="339.7" y1="327.8" x2="339.7" y2="331.0" stroke="#000" stroke-width="1.5" />
<text x="339.7" y="343.8" font-size="8.8" text-anchor="middle" font-weight="bold" textLength="4.3" lengthAdjust="spacingAndGlyphs" >2</text>
<line x1="363.6" y1="327.8" x2="363.6" y2="331.0" stroke="#000" stroke-width="1.5" />
<text x="363.6" y="343.8" font-size="8.8" text-anchor="middle" font-weight="bold" textLength="4.3" lengthAdjust="spacingAndGlyphs" >3</text>
<line x1="386.7" y1="327.8" x2="386.7" y2="331.0" stroke="#000" stroke-width="1.5" />
<text x="386.7" y="343.8" font-size="8.8" text-anchor="middle" font-weight="bold" textLength="4.3" lengthAdjust="spacingAndGlyphs" >4</text>
<line x1="316.6" y1="268.9" x2="316.6" y2="252.3" stroke="#000" stroke-width="1.7" />
<line x1="312.20000000000005" y1="252.3" x2="321.0" y2="252.3" stroke="#000" stroke-width="1.9" />
<line x1="339.7" y1="269.3" x2="339.7" y2="264.2" stroke="#000" stroke-width="1.7" />
<line x1="335.3" y1="264.2" x2="344.09999999999997" y2="264.2" stroke="#000" stroke-width="1.9" />
<line x1="363.6" y1="259.2" x2="363.6" y2="252.3" stroke="#000" stroke-width="1.7" />
<line x1="359.20000000000005" y1="252.3" x2="368.0" y2="252.3" stroke="#000" stroke-width="1.9" />
<line x1="386.7" y1="274.8" x2="386.7" y2="269.2" stroke="#000" stroke-width="1.7" />
<line x1="382.3" y1="269.2" x2="391.09999999999997" y2="269.2" stroke="#000" stroke-width="1.9" />
<line x1="316.6" y1="304.6" x2="316.6" y2="295.3" stroke="#000" stroke-width="1.7" />
<line x1="312.20000000000005" y1="295.3" x2="321.0" y2="295.3" stroke="#000" stroke-width="1.9" />
<line x1="339.7" y1="295.7" x2="339.7" y2="287.0" stroke="#000" stroke-width="1.7" />
<line x1="335.3" y1="287.0" x2="344.09999999999997" y2="287.0" stroke="#000" stroke-width="1.9" />
<line x1="363.6" y1="297.3" x2="363.6" y2="285.4" stroke="#000" stroke-width="1.7" />
<line x1="359.20000000000005" y1="285.4" x2="368.0" y2="285.4" stroke="#000" stroke-width="1.9" />
<line x1="386.7" y1="299.0" x2="386.7" y2="289.7" stroke="#000" stroke-width="1.7" />
<line x1="382.3" y1="289.7" x2="391.09999999999997" y2="289.7" stroke="#000" stroke-width="1.9" />
<circle cx="316.6" cy="304.6" r="4.8" fill="#000"/>
<circle cx="339.7" cy="295.7" r="4.8" fill="#000"/>
<circle cx="363.6" cy="297.3" r="4.8" fill="#000"/>
<circle cx="386.7" cy="299.0" r="4.8" fill="#000"/>
<circle cx="316.6" cy="268.9" r="3.8499999999999996" fill="#fff" stroke="#000" stroke-width="1.9"/>
<circle cx="339.7" cy="269.3" r="3.8499999999999996" fill="#fff" stroke="#000" stroke-width="1.9"/>
<circle cx="363.6" cy="259.2" r="3.8499999999999996" fill="#fff" stroke="#000" stroke-width="1.9"/>
<circle cx="386.7" cy="274.8" r="3.8499999999999996" fill="#fff" stroke="#000" stroke-width="1.9"/>
<polyline points="316.6,268.9 339.7,269.3 363.6,259.2 386.7,274.8" fill="none" stroke="#000" stroke-width="2.0"/>
<polyline points="316.6,304.6 339.7,295.7 363.6,297.3 386.7,299.0" fill="none" stroke="#000" stroke-width="2.0"/>
<text x="339.7" y="311.2" font-size="8.5" text-anchor="middle" font-weight="bold" >***</text>
<text x="363.6" y="312.8" font-size="8.5" text-anchor="middle" font-weight="bold" >***</text>
<text x="386.7" y="312.8" font-size="8.5" text-anchor="middle" font-weight="bold" >**</text>
<text x="324.6" y="212.4" font-size="8.3" text-anchor="start" font-weight="bold" textLength="26.7" lengthAdjust="spacingAndGlyphs" >B cells</text>
<line x1="416.4" y1="213.3" x2="416.4" y2="328.7" stroke="#000" stroke-width="1.8" />
<line x1="413.2" y1="327.8" x2="416.4" y2="327.8" stroke="#000" stroke-width="1.5" />
<text x="412.6" y="330.7" font-size="9.0" text-anchor="end" font-weight="bold" textLength="4.3" lengthAdjust="spacingAndGlyphs" >0</text>
<line x1="413.2" y1="305.02" x2="416.4" y2="305.02" stroke="#000" stroke-width="1.5" />
<text x="412.6" y="307.91999999999996" font-size="9.0" text-anchor="end" font-weight="bold" textLength="8.6" lengthAdjust="spacingAndGlyphs" >20</text>
<line x1="413.2" y1="282.24" x2="416.4" y2="282.24" stroke="#000" stroke-width="1.5" />
<text x="412.6" y="285.14" font-size="9.0" text-anchor="end" font-weight="bold" textLength="8.6" lengthAdjust="spacingAndGlyphs" >40</text>
<line x1="413.2" y1="259.46000000000004" x2="416.4" y2="259.46000000000004" stroke="#000" stroke-width="1.5" />
<text x="412.6" y="262.36" font-size="9.0" text-anchor="end" font-weight="bold" textLength="8.6" lengthAdjust="spacingAndGlyphs" >60</text>
<line x1="413.2" y1="236.68" x2="416.4" y2="236.68" stroke="#000" stroke-width="1.5" />
<text x="412.6" y="239.58" font-size="9.0" text-anchor="end" font-weight="bold" textLength="8.6" lengthAdjust="spacingAndGlyphs" >80</text>
<line x1="413.2" y1="213.9" x2="416.4" y2="213.9" stroke="#000" stroke-width="1.5" />
<text x="412.6" y="216.8" font-size="9.0" text-anchor="end" font-weight="bold" textLength="12.9" lengthAdjust="spacingAndGlyphs" >100</text>
<line x1="415.5" y1="327.8" x2="517.6" y2="327.8" stroke="#000" stroke-width="1.8" />
<line x1="442.0" y1="327.8" x2="442.0" y2="331.0" stroke="#000" stroke-width="1.5" />
<text x="442.0" y="343.8" font-size="8.8" text-anchor="middle" font-weight="bold" textLength="4.3" lengthAdjust="spacingAndGlyphs" >1</text>
<line x1="466.0" y1="327.8" x2="466.0" y2="331.0" stroke="#000" stroke-width="1.5" />
<text x="466.0" y="343.8" font-size="8.8" text-anchor="middle" font-weight="bold" textLength="4.3" lengthAdjust="spacingAndGlyphs" >2</text>
<line x1="489.7" y1="327.8" x2="489.7" y2="331.0" stroke="#000" stroke-width="1.5" />
<text x="489.7" y="343.8" font-size="8.8" text-anchor="middle" font-weight="bold" textLength="4.3" lengthAdjust="spacingAndGlyphs" >3</text>
<line x1="512.8" y1="327.8" x2="512.8" y2="331.0" stroke="#000" stroke-width="1.5" />
<text x="512.8" y="343.8" font-size="8.8" text-anchor="middle" font-weight="bold" textLength="4.3" lengthAdjust="spacingAndGlyphs" >4</text>
<line x1="442.0" y1="295.8" x2="442.0" y2="284.3" stroke="#000" stroke-width="1.7" />
<line x1="437.6" y1="284.3" x2="446.4" y2="284.3" stroke="#000" stroke-width="1.9" />
<line x1="466.0" y1="309.5" x2="466.0" y2="302.5" stroke="#000" stroke-width="1.7" />
<line x1="461.6" y1="302.5" x2="470.4" y2="302.5" stroke="#000" stroke-width="1.9" />
<line x1="512.8" y1="310.5" x2="512.8" y2="305.8" stroke="#000" stroke-width="1.7" />
<line x1="508.4" y1="305.8" x2="517.1999999999999" y2="305.8" stroke="#000" stroke-width="1.9" />
<line x1="442.0" y1="268.9" x2="442.0" y2="260.1" stroke="#000" stroke-width="1.7" />
<line x1="437.6" y1="260.1" x2="446.4" y2="260.1" stroke="#000" stroke-width="1.9" />
<line x1="466.0" y1="266.4" x2="466.0" y2="254.6" stroke="#000" stroke-width="1.7" />
<line x1="461.6" y1="254.6" x2="470.4" y2="254.6" stroke="#000" stroke-width="1.9" />
<line x1="489.7" y1="260.1" x2="489.7" y2="245.6" stroke="#000" stroke-width="1.7" />
<line x1="485.3" y1="245.6" x2="494.09999999999997" y2="245.6" stroke="#000" stroke-width="1.9" />
<line x1="512.8" y1="269.7" x2="512.8" y2="253.1" stroke="#000" stroke-width="1.7" />
<line x1="508.4" y1="253.1" x2="517.1999999999999" y2="253.1" stroke="#000" stroke-width="1.9" />
<circle cx="442.0" cy="268.9" r="4.8" fill="#000"/>
<circle cx="466.0" cy="266.4" r="4.8" fill="#000"/>
<circle cx="489.7" cy="260.1" r="4.8" fill="#000"/>
<circle cx="512.8" cy="269.7" r="4.8" fill="#000"/>
<circle cx="442.0" cy="295.8" r="3.8499999999999996" fill="#fff" stroke="#000" stroke-width="1.9"/>
<circle cx="466.0" cy="309.5" r="3.8499999999999996" fill="#fff" stroke="#000" stroke-width="1.9"/>
<circle cx="489.7" cy="315.0" r="3.8499999999999996" fill="#fff" stroke="#000" stroke-width="1.9"/>
<circle cx="512.8" cy="310.5" r="3.8499999999999996" fill="#fff" stroke="#000" stroke-width="1.9"/>
<polyline points="442.0,295.8 466.0,309.5 489.7,315.0 512.8,310.5" fill="none" stroke="#000" stroke-width="2.0"/>
<polyline points="442.0,268.9 466.0,266.4 489.7,260.1 512.8,269.7" fill="none" stroke="#000" stroke-width="2.0"/>
<text x="442.0" y="254.6" font-size="8.5" text-anchor="middle" font-weight="bold" >**</text>
<text x="465.7" y="250.8" font-size="8.5" text-anchor="middle" font-weight="bold" >***</text>
<text x="489.7" y="242.8" font-size="8.5" text-anchor="middle" font-weight="bold" >***</text>
<text x="512.8" y="250.2" font-size="8.5" text-anchor="middle" font-weight="bold" >***</text>
<text x="451.4" y="213.2" font-size="8.3" text-anchor="start" font-weight="bold" textLength="27.6" lengthAdjust="spacingAndGlyphs" >M cells</text>
<text x="213.8" y="357.6" font-size="8.5" text-anchor="start" font-weight="bold" textLength="100" lengthAdjust="spacingAndGlyphs" >Time after BMT (months)</text>
</svg>
</body></html>
